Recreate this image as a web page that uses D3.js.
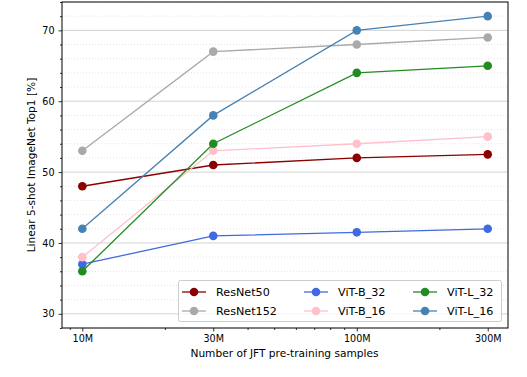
<!DOCTYPE html>
<html><head><meta charset="utf-8">
<script src="https://cdn.jsdelivr.net/npm/d3@7"></script>
<style>body{margin:0;background:#fff}svg{display:block;font-family:"DejaVu Sans",sans-serif}</style>
</head><body>
<svg id="c" width="527" height="377"></svg>
<script>
const samples = [1e7, 3e7, 1e8, 3e8];
const xTickLabels = ["10M", "30M", "100M", "300M"];
const seriesNames = ["ResNet50", "ResNet152", "ViT-B_32", "ViT-B_16", "ViT-L_32", "ViT-L_16"];
const seriesColors = ["#8b0000", "#a9a9a9", "#4169e1", "#ffc0cb", "#228b22", "#4682b4"];
const resnet50 = [48, 51, 52, 52.5];
const resnet152 = [53, 67, 68, 69];
const vitB32 = [37, 41, 41.5, 42];
const vitB16 = [38, 53, 54, 55];
const vitL32 = [36, 54, 64, 65];
const vitL16 = [42, 58, 70, 72];
const yTicks = [30, 40, 50, 60, 70];
const seriesValues = [resnet50, resnet152, vitB32, vitB16, vitL32, vitL16];

const svg = d3.select("#c");
const L = 62, R = 508, T = 2, B = 328;
const x = d3.scaleLog().domain([Math.pow(10, 6.926), Math.pow(10, 8.551)]).range([L, R]);
const y = d3.scaleLinear().domain([28, 74]).range([B, T]);

// grid
const minorY = d3.range(28, 75, 2).filter(v => v % 10 !== 0);
svg.append("g").selectAll("line").data(minorY).join("line")
  .attr("x1", L).attr("x2", R).attr("y1", d => y(d)).attr("y2", d => y(d))
  .attr("stroke", "#dcdcdc").attr("stroke-width", 0.8).attr("stroke-dasharray", "1,2");
svg.append("g").selectAll("line").data(yTicks).join("line")
  .attr("x1", L).attr("x2", R).attr("y1", d => y(d)).attr("y2", d => y(d))
  .attr("stroke", "#d3d3d3").attr("stroke-width", 1);

// axes
const xMinor = [];
[1e6, 1e7, 1e8].forEach(d => { for (let k = 2; k <= 9; k++) { const v = d * k; if (v > x.domain()[0] && v < x.domain()[1] && ![3e7, 3e8].includes(v)) xMinor.push(v); } });
const gx = svg.append("g").attr("transform", `translate(0,${B})`);
gx.call(d3.axisBottom(x).tickValues(samples).tickFormat((d, i) => xTickLabels[i]).tickSize(3.5).tickPadding(4));
gx.append("g").call(d3.axisBottom(x).tickValues(xMinor).tickFormat("").tickSize(2));
gx.selectAll(".domain").remove();
const gy = svg.append("g").attr("transform", `translate(${L},0)`);
gy.call(d3.axisLeft(y).tickValues(yTicks).tickSize(3.5).tickPadding(4));
gy.append("g").call(d3.axisLeft(y).tickValues(minorY).tickFormat("").tickSize(2));
gy.selectAll(".domain").remove();
svg.selectAll(".tick text").attr("font-size", 9.6).attr("fill", "#000").attr("font-family", "DejaVu Sans");
svg.selectAll(".tick line").attr("stroke", "#000").attr("stroke-width", 0.8);

// lines
const line = d3.line().x((d, i) => x(samples[i])).y(d => y(d));
seriesValues.forEach((vals, s) => {
  const g = svg.append("g");
  g.append("path").attr("d", line(vals)).attr("fill", "none").attr("stroke", seriesColors[s]).attr("stroke-width", 1.3);
  g.selectAll("circle").data(vals).join("circle")
    .attr("cx", (d, i) => x(samples[i])).attr("cy", d => y(d)).attr("r", 4.3).attr("fill", seriesColors[s]);
});

// frame
svg.append("rect").attr("x", L).attr("y", T).attr("width", R - L).attr("height", B - T)
  .attr("fill", "none").attr("stroke", "#000").attr("stroke-width", 1);

// labels
svg.append("text").attr("x", (L + R) / 2 - 0.5).attr("y", 357).attr("text-anchor", "middle")
  .attr("font-size", 10.6).text("Number of JFT pre-training samples");
svg.append("text").attr("transform", `translate(35,${(T + B) / 2}) rotate(-90)`).attr("text-anchor", "middle")
  .attr("font-size", 10.6).text("Linear 5-shot ImageNet Top1 [%]");

// legend
const lg = svg.append("g");
lg.append("rect").attr("x", 178.5).attr("y", 280.5).attr("width", 323).attr("height", 41).attr("rx", 2)
  .attr("fill", "#fff").attr("fill-opacity", 0.8).attr("stroke", "#ccc").attr("stroke-width", 1);
const colX = [182, 304, 413];
const rowY = [292, 311];
seriesNames.forEach((n, i) => {
  const cx = colX[Math.floor(i / 2)], cy = rowY[i % 2];
  lg.append("line").attr("x1", cx).attr("x2", cx + 24).attr("y1", cy).attr("y2", cy)
    .attr("stroke", seriesColors[i]).attr("stroke-width", 1.3);
  lg.append("circle").attr("cx", cx + 12).attr("cy", cy).attr("r", 4.3).attr("fill", seriesColors[i]);
  lg.append("text").attr("x", cx + 34).attr("y", cy + 4).attr("font-size", 11.2).text(n);
});
</script>
</body></html>
